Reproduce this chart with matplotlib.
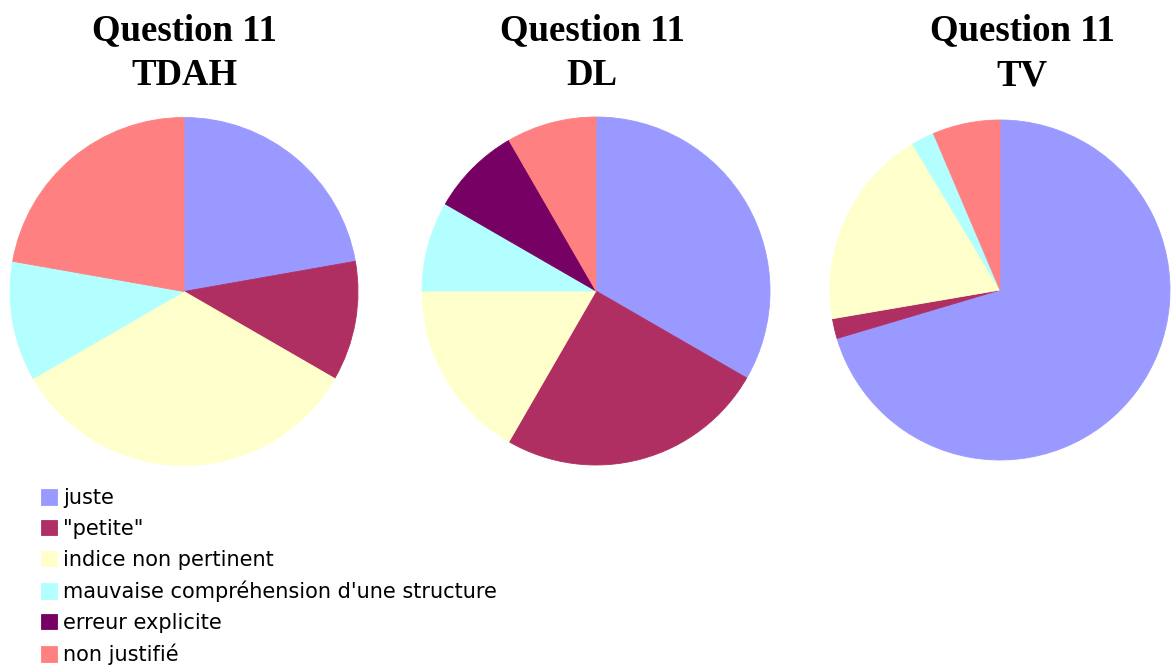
import matplotlib
matplotlib.use("Agg")
import matplotlib.pyplot as plt

categories = ["juste", "\"petite\"", "indice non pertinent",
              "mauvaise compréhension d'une structure", "erreur explicite", "non justifié"]
colors = ["#9999FF", "#B02F62", "#FFFFCC", "#B3FFFF", "#770064", "#FF8080"]

titles = [("Question 11", "TDAH"), ("Question 11", "DL"), ("Question 11", "TV")]
tdah = [2, 1, 3, 1, 0, 2]
dl = [4, 3, 2, 1, 1, 1]
tv = [70.4, 1.9, 19.1, 2.2, 0.0, 6.4]
series = [tdah, dl, tv]

W, H = 1176, 666
fig = plt.figure(figsize=(W / 100, H / 100), dpi=100)

# pie centers / radii in pixels (from top-left)
layout = [(184, 291.5, 174), (596, 291, 174), (1000, 290, 170)]
title_x = [184, 592, 1022]

wedge_sets = []
for (cx, cy, r), vals in zip(layout, series):
    ax = fig.add_axes([(cx - r) / W, (H - cy - r) / H, 2 * r / W, 2 * r / H])
    w, _ = ax.pie(vals, colors=colors, startangle=90, counterclock=False, radius=1,
                  wedgeprops=dict(linewidth=0.6))
    for wd, v in zip(w, vals):
        if v > 0:
            wd.set_edgecolor(wd.get_facecolor())
        else:
            wd.set_linewidth(0)
            wd.set_visible(False)
    ax.set_xlim(-1, 1)
    ax.set_ylim(-1, 1)
    ax.set_aspect("equal")
    ax.axis("off")
    wedge_sets.append(w)

for tx, (l1, l2) in zip(title_x, titles):
    fig.text(tx / W, 1 - 40 / H, l1, ha="center", va="baseline",
             fontsize=26.5, fontweight="bold", family="Liberation Serif")
    fig.text(tx / W, 1 - 85 / H, l2, ha="center", va="baseline",
             fontsize=26.5, fontweight="bold", family="Liberation Serif")

leg = fig.legend(wedge_sets[1], categories, loc="upper left",
                 bbox_to_anchor=(41 / W, 1 - 488 / H), frameon=False,
                 fontsize=15, handlelength=0.77, handleheight=0.77,
                 handletextpad=0.3, labelspacing=0.52, borderpad=0, borderaxespad=0)
for t in leg.get_texts():
    t.set_family("DejaVu Sans")

fig.savefig("out.png", dpi=100, facecolor="white")
